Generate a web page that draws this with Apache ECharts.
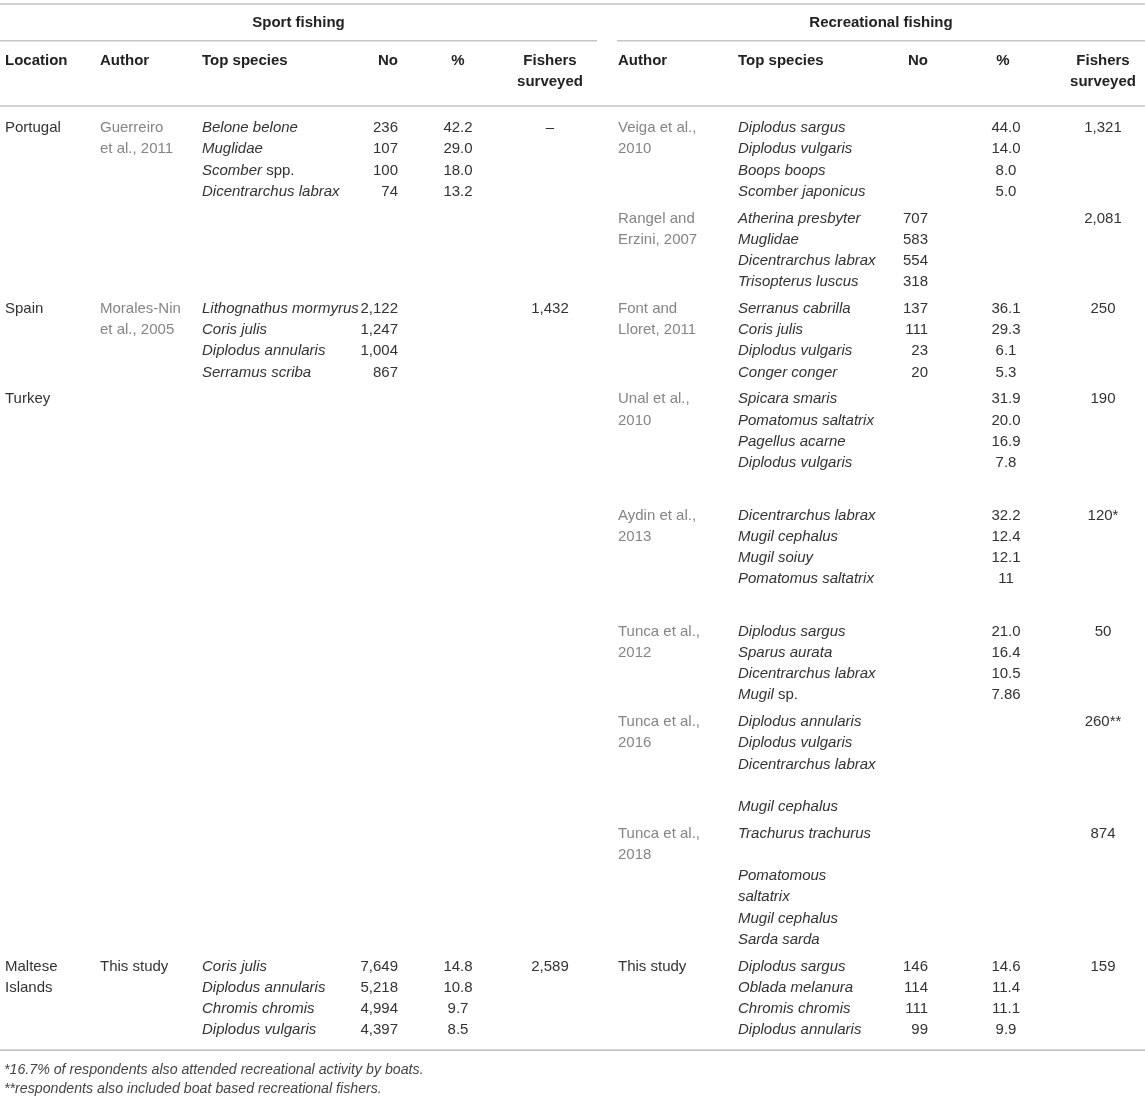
<!DOCTYPE html>
<html>
<head>
<meta charset="utf-8">
<script src="https://cdn.jsdelivr.net/npm/echarts@6/dist/echarts.min.js"></script>
<style>
html, body { margin: 0; padding: 0; background: #fff; }
#chart { width: 1145px; height: 1101px; }
</style>
</head>
<body>
<div id="chart"></div>
<script>
// one entry per table row (one recreational study each)
let locations = ["Portugal", "", "Spain", "Turkey", "", "", "", "", "Maltese\nIslands"];

let sportAuthors = ["Guerreiro\net al., 2011", "", "Morales-Nin\net al., 2005", "", "", "", "", "", "This study"];
let sportSpecies = [
	["Belone belone", "Muglidae", "Scomber spp.", "Dicentrarchus labrax"],
	[],
	["Lithognathus mormyrus", "Coris julis", "Diplodus annularis", "Serramus scriba"],
	[], [], [], [], [],
	["Coris julis", "Diplodus annularis", "Chromis chromis", "Diplodus vulgaris"]
];
let sportNo = [["236", "107", "100", "74"], [], ["2,122", "1,247", "1,004", "867"], [], [], [], [], [], ["7,649", "5,218", "4,994", "4,397"]];
let sportPct = [["42.2", "29.0", "18.0", "13.2"], [], [], [], [], [], [], [], ["14.8", "10.8", "9.7", "8.5"]];
let sportSurveyed = ["–", "", "1,432", "", "", "", "", "", "2,589"];

let recAuthors = ["Veiga et al.,\n2010", "Rangel and\nErzini, 2007", "Font and\nLloret, 2011", "Unal et al.,\n2010", "Aydin et al.,\n2013",
	"Tunca et al.,\n2012", "Tunca et al.,\n2016", "Tunca et al.,\n2018", "This study"];
let recSpecies = [
	["Diplodus sargus", "Diplodus vulgaris", "Boops boops", "Scomber japonicus"],
	["Atherina presbyter", "Muglidae", "Dicentrarchus labrax", "Trisopterus luscus"],
	["Serranus cabrilla", "Coris julis", "Diplodus vulgaris", "Conger conger"],
	["Spicara smaris", "Pomatomus saltatrix", "Pagellus acarne", "Diplodus vulgaris"],
	["Dicentrarchus labrax", "Mugil cephalus", "Mugil soiuy", "Pomatomus saltatrix"],
	["Diplodus sargus", "Sparus aurata", "Dicentrarchus labrax", "Mugil sp."],
	["Diplodus annularis", "Diplodus vulgaris", "Dicentrarchus labrax", "", "Mugil cephalus"],
	["Trachurus trachurus", "", "Pomatomous", "saltatrix", "Mugil cephalus", "Sarda sarda"],
	["Diplodus sargus", "Oblada melanura", "Chromis chromis", "Diplodus annularis"]
];
let recNo = [[], ["707", "583", "554", "318"], ["137", "111", "23", "20"], [], [], [], [], [], ["146", "114", "111", "99"]];
let recPct = [["44.0", "14.0", "8.0", "5.0"], [], ["36.1", "29.3", "6.1", "5.3"], ["31.9", "20.0", "16.9", "7.8"],
	["32.2", "12.4", "12.1", "11"], ["21.0", "16.4", "10.5", "7.86"], [], [], ["14.6", "11.4", "11.1", "9.9"]];
let recSurveyed = ["1,321", "2,081", "250", "190", "120*", "50", "260**", "874", "159"];

let groupHeads = ["Sport fishing", "Recreational fishing"];
let footnotes = ["*16.7% of respondents also attended recreational activity by boats.",
	"**respondents also included boat based recreational fishers."];

// layout
const FONT = "'Liberation Sans', Arial, Helvetica, sans-serif";
const lineH = 21.2, rowGap = 5.6, firstRow = 128;
const rowLines = [4, 4, 4, 5.22, 5.22, 4, 5, 6, 4];
const cols = {
	location: {x: 5, align: "left"},
	sportAuthor: {x: 100, align: "left"},
	sportSpecies: {x: 202, align: "left"},
	sportNo: {x: 398, align: "right"},
	sportPct: {x: 458, align: "center"},
	sportSurveyed: {x: 550, align: "center"},
	recAuthor: {x: 618, align: "left"},
	recSpecies: {x: 738, align: "left"},
	recNo: {x: 928, align: "right"},
	recPct: {x: 1006, align: "center"},
	recSurveyed: {x: 1103, align: "center"}
};

let styles = {
	body: {font: "15px " + FONT, color: "#333"},
	cite: {font: "15px " + FONT, color: "#858585"},
	species: {font: "15px " + FONT, color: "#333"},
	head: {font: "bold 15px " + FONT, color: "#222"},
	note: {font: "italic 14.2px " + FONT, color: "#444"}
};

let cells = [];
function cell(x, y, text, kind, align) {
	cells.push({x, y, text, kind, align: align || "left"});
}
function column(col, y, lines, kind) {
	lines.forEach((t, i) => {
		if (t !== "") cell(cols[col].x, y + i * lineH, t, kind, cols[col].align);
	});
}
function authorKind(a) {
	return /\d{4}/.test(a) ? "cite" : "body";
}

// header
cell(298.5, 23, groupHeads[0], "head", "center");
cell(881, 23, groupHeads[1], "head", "center");
column("location", 60.7, ["Location"], "head");
column("sportAuthor", 60.7, ["Author"], "head");
column("sportSpecies", 60.7, ["Top species"], "head");
column("sportNo", 60.7, ["No"], "head");
column("sportPct", 60.7, ["%"], "head");
column("sportSurveyed", 60.7, ["Fishers", "surveyed"], "head");
column("recAuthor", 60.7, ["Author"], "head");
column("recSpecies", 60.7, ["Top species"], "head");
column("recNo", 60.7, ["No"], "head");
cell(1003, 60.7, "%", "head", "center");
column("recSurveyed", 60.7, ["Fishers", "surveyed"], "head");

// body rows
let y = firstRow;
locations.forEach((loc, r) => {
	column("location", y, loc.split("\n"), "body");
	column("sportAuthor", y, sportAuthors[r].split("\n"), authorKind(sportAuthors[r]));
	column("sportSpecies", y, sportSpecies[r], "species");
	column("sportNo", y, sportNo[r], "body");
	column("sportPct", y, sportPct[r], "body");
	column("sportSurveyed", y, [sportSurveyed[r]], "body");
	column("recAuthor", y, recAuthors[r].split("\n"), authorKind(recAuthors[r]));
	column("recSpecies", y, recSpecies[r], "species");
	column("recNo", y, recNo[r], "body");
	column("recPct", y, recPct[r], "body");
	column("recSurveyed", y, [recSurveyed[r]], "body");
	y += rowLines[r] * lineH + rowGap;
});
let tableBottom = y - rowGap - lineH + 20;

footnotes.forEach((t, i) => cell(4, tableBottom + 20 + i * 18.5, t, "note"));

// horizontal rules: [x1, y, x2]
let rules = [[0, 4, 1145], [0, 40.7, 597], [617, 40.7, 1145], [0, 106, 1145], [0, tableBottom, 1145]];

function italicize(s) {
	// species names italic, "sp." / "spp." upright
	return s.split(" ").map(w => /^spp?\.$/.test(w) ? w : "{i|" + w + "}").join(" ");
}

let chart = echarts.init(document.getElementById("chart"));
chart.setOption({
	animation: false,
	backgroundColor: "#fff",
	grid: {left: 0, right: 0, top: 0, bottom: 0},
	xAxis: {type: "value", min: 0, max: 1145, show: false},
	yAxis: {type: "value", min: 0, max: 1101, inverse: true, show: false},
	series: [
		{
			type: "custom",
			silent: true,
			clip: false,
			data: rules,
			renderItem: function(params, api) {
				let a = api.coord([api.value(0), api.value(1)]);
				let b = api.coord([api.value(2), api.value(1)]);
				return {
					type: "line",
					shape: {x1: a[0], y1: a[1], x2: b[0], y2: b[1]},
					style: {stroke: "#c4c4c4", lineWidth: 1.6}
				};
			}
		},
		{
			type: "custom",
			silent: true,
			clip: false,
			data: cells.map(c => [c.x, c.y]),
			renderItem: function(params, api) {
				let c = cells[params.dataIndex];
				let p = api.coord([api.value(0), api.value(1)]);
				let st = styles[c.kind];
				let style = {
					text: c.kind === "species" ? italicize(c.text) : c.text,
					align: c.align,
					verticalAlign: "middle",
					fill: st.color,
					font: st.font
				};
				if (c.kind === "species") {
					style.rich = {i: {font: "italic 15px " + FONT, fill: st.color}};
				}
				return {type: "text", x: p[0], y: p[1], style: style};
			}
		}
	]
});
</script>
</body>
</html>
